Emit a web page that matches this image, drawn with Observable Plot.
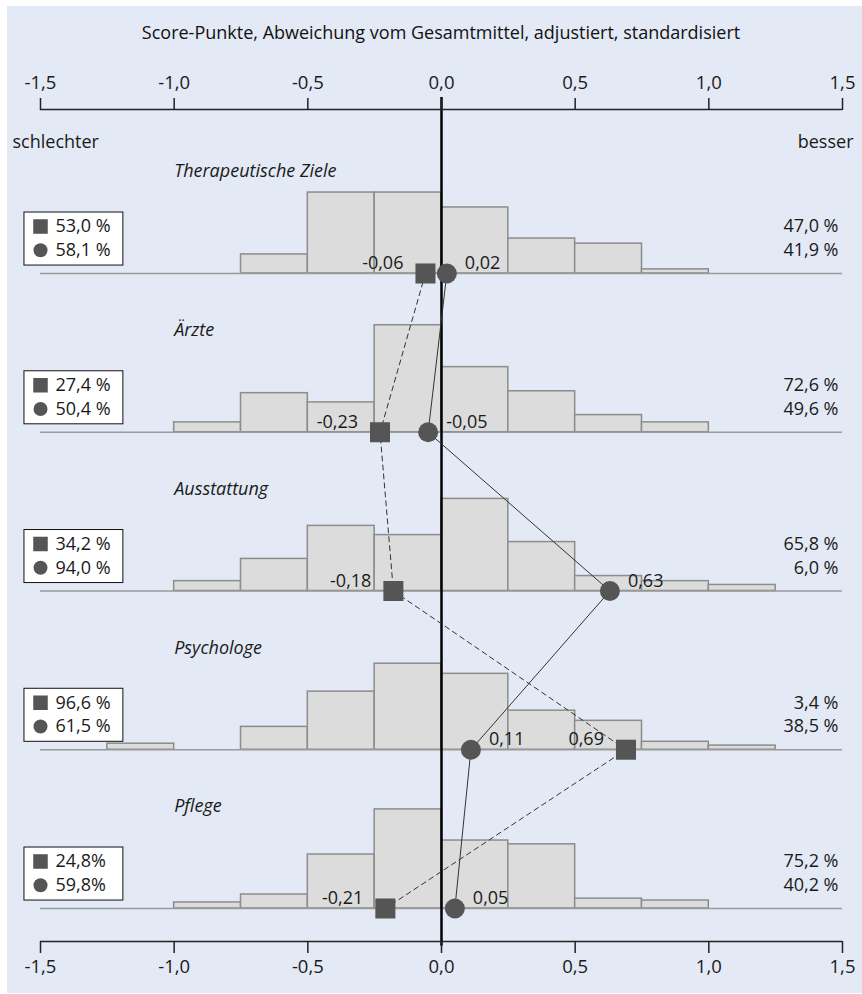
<!DOCTYPE html>
<html><head><meta charset="utf-8">
<script src="https://cdn.jsdelivr.net/npm/d3@7"></script>
<script src="https://cdn.jsdelivr.net/npm/@observablehq/plot@0.6"></script>
<style>
body{margin:0;background:#fff;font-family:"Open Sans",sans-serif;}
#wrap{position:relative;width:862px;height:994px;overflow:hidden;}
#bg{position:absolute;left:7px;top:6px;width:855px;height:987px;background:#e3e9f5;}
#title{position:absolute;left:40px;width:802px;top:19px;text-align:center;font-size:18px;color:#111;line-height:26px;}
#chart{position:absolute;left:0;top:50px;}
</style></head>
<body>
<div id="wrap"><div id="bg"></div>
<div id="title">Score-Punkte, Abweichung vom Gesamtmittel, adjustiert, standardisiert</div>
<div id="chart"></div></div>
<script>
const panels = ["Therapeutische Ziele", "Ärzte", "Ausstattung", "Psychologe", "Pflege"];
const binStarts = [-1.25, -1.0, -0.75, -0.5, -0.25, 0, 0.25, 0.5, 0.75, 1.0];
const binWidth = 0.25;
const histTherapeutischeZiele = [0, 0, 6.0, 25.5, 25.5, 20.8, 11.0, 9.4, 1.3, 0];
const histAerzte = [0, 3.1, 12.3, 9.4, 33.7, 20.5, 12.9, 5.4, 3.1, 0];
const histAusstattung = [0, 3.1, 10.1, 20.5, 17.6, 29.0, 15.4, 4.7, 3.1, 1.9];
const histPsychologe = [1.9, 0, 7.2, 18.3, 27.1, 23.9, 12.3, 9.1, 2.5, 1.3];
const histPflege = [0, 1.9, 4.4, 17.0, 31.2, 21.4, 20.2, 3.1, 2.5, 0];
const squareValues = [-0.06, -0.23, -0.18, 0.69, -0.21];
const circleValues = [0.02, -0.05, 0.63, 0.11, 0.05];
const squareLeftPct = ["53,0 %", "27,4 %", "34,2 %", "96,6 %", "24,8%"];
const circleLeftPct = ["58,1 %", "50,4 %", "94,0 %", "61,5 %", "59,8%"];
const squareRightPct = ["47,0 %", "72,6 %", "65,8 %", "3,4 %", "75,2 %"];
const circleRightPct = ["41,9 %", "49,6 %", "6,0 %", "38,5 %", "40,2 %"];
const xTicks = [-1.5, -1.0, -0.5, 0, 0.5, 1.0, 1.5];
const sideLabels = ["schlechter", "besser"];

const hists = [histTherapeutischeZiele, histAerzte, histAusstattung, histPsychologe, histPflege];
const panelGap = 50;
const rows = panels.map((name, i) => ({
  name, i, base: -panelGap * i,
  sq: squareValues[i], ci: circleValues[i],
  sqL: squareLeftPct[i], ciL: circleLeftPct[i],
  sqR: squareRightPct[i], ciR: circleRightPct[i]
}));
const bars = rows.flatMap(r => binStarts.map((b, j) => ({x1: b, x2: b + binWidth, base: r.base, h: hists[r.i][j]}))).filter(d => d.h > 0);

const fmt1 = v => v.toFixed(1).replace(".", ",");
const fmt2 = v => v.toFixed(2).replace(".", ",");
const yTop = 51.65, yBottom = -210.4;
const ink = "#1a1a1a", markerFill = "#555555";

const chart = Plot.plot({
  width: 862, height: 944,
  marginTop: 59, marginBottom: 53, marginLeft: 40, marginRight: 20,
  style: {fontFamily: "'Open Sans', sans-serif", fontSize: "18px", color: ink, background: "transparent", overflow: "visible"},
  x: {domain: [-1.5, 1.5], axis: null},
  y: {domain: [yBottom, yTop], axis: null},
  marks: [
    Plot.rect(bars, {x1: "x1", x2: "x2", y1: "base", y2: d => d.base + d.h, fill: "#dcdcdc", stroke: "#8c8c8c", strokeWidth: 1.5}),
    Plot.ruleY(rows, {y: "base", x1: -1.5, x2: 1.5, stroke: "#9a9a9a", strokeWidth: 1.5}),
    Plot.ruleX([0], {y1: yTop + 12 / 3.175, y2: yBottom - 1.5, stroke: "#000", strokeWidth: 2.5}),
    Plot.line(rows, {x: "sq", y: "base", stroke: "#333", strokeWidth: 1, strokeDasharray: "5,4"}),
    Plot.line(rows, {x: "ci", y: "base", stroke: "#333", strokeWidth: 1}),
    Plot.dot(rows, {x: "sq", y: "base", symbol: "square", r: 11.3, fill: markerFill, stroke: "none"}),
    Plot.dot(rows, {x: "ci", y: "base", symbol: "circle", r: 10, fill: markerFill, stroke: "none"}),
    Plot.text(rows, {x: "sq", y: "base", text: d => fmt2(d.sq), dx: -22, dy: -10, textAnchor: "end", fill: ink}),
    Plot.text(rows, {x: "ci", y: "base", text: d => fmt2(d.ci), dx: 18, dy: -10, textAnchor: "start", fill: ink}),
    Plot.text(rows, {x: -1.0, y: d => d.base + 32.1, text: "name", textAnchor: "start", fontStyle: "italic", fill: ink}),
    Plot.rect(rows, {x1: -1.56, x2: -1.19, y1: d => d.base + 2.5, y2: d => d.base + 19.2, fill: "#fff", stroke: "#111", strokeWidth: 1}),
    Plot.dot(rows, {x: -1.5, y: d => d.base + 14.8, symbol: "square", r: 8.2, fill: markerFill, stroke: "none"}),
    Plot.dot(rows, {x: -1.5, y: d => d.base + 7.3, symbol: "circle", r: 7, fill: markerFill, stroke: "none"}),
    Plot.text(rows, {x: -1.5, y: d => d.base + 14.8, text: "sqL", dx: 15, textAnchor: "start", fill: ink}),
    Plot.text(rows, {x: -1.5, y: d => d.base + 7.3, text: "ciL", dx: 15, textAnchor: "start", fill: ink}),
    Plot.text(rows, {x: 1.5, y: d => d.base + 14.8, text: "sqR", dx: -4, textAnchor: "end", fill: ink}),
    Plot.text(rows, {x: 1.5, y: d => d.base + 7.3, text: "ciR", dx: -4, textAnchor: "end", fill: ink}),
    Plot.text([sideLabels[0]], {x: -1.5, y: 41.3, text: d => d, dx: -28, textAnchor: "start", fill: ink}),
    Plot.text([sideLabels[1]], {x: 1.5, y: 41.3, text: d => d, dx: 11, textAnchor: "end", fill: ink}),
    Plot.ruleY([yTop, yBottom], {x1: -1.5, x2: 1.5, stroke: "#222", strokeWidth: 1.5}),
    Plot.axisX({anchor: "top", ticks: xTicks, tickFormat: fmt1, tickSize: 12, tickPadding: 9, fontSize: 18.5, stroke: "#222", strokeWidth: 1.5, fill: ink, label: null}),
    Plot.axisX({anchor: "bottom", ticks: xTicks, tickFormat: fmt1, tickSize: 12, tickPadding: 6, fontSize: 18.5, stroke: "#222", strokeWidth: 1.5, fill: ink, label: null})
  ]
});
document.getElementById("chart").appendChild(chart);
</script>
</body></html>
